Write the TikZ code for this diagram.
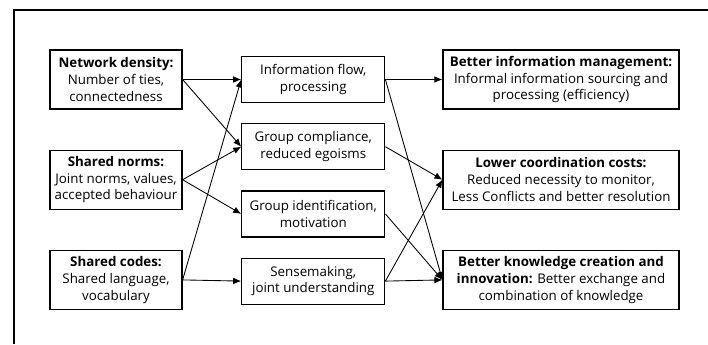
\documentclass[tikz,border=0pt]{standalone}
\usepackage{fontspec}
\setmainfont{Open Sans}
\usetikzlibrary{positioning,arrows.meta}
\tikzset{
  capbox/.style={rectangle,draw=black,line width=0.9pt,align=center,inner sep=2pt,
    minimum width=99pt,minimum height=44.25pt},
  mechbox/.style={rectangle,draw=black,line width=0.9pt,align=center,inner sep=2pt,
    minimum width=107.25pt,minimum height=34.5pt},
  outbox/.style={rectangle,draw=black,line width=0.9pt,align=center,inner sep=2pt,
    minimum width=177pt,minimum height=44.25pt},
  link/.style={-{Latex[length=6pt,width=5pt]},line width=0.65pt},
}

\begin{document}
\begin{tikzpicture}[x=0.75pt,y=-0.75pt,font=\fontsize{10}{12.6}\selectfont,node distance=0pt]
  \useasboundingbox (0,0) rectangle (708,344);
  % frame
  \draw[line width=2pt] (14,344) -- (14,10) -- (708,10);
  % social capital dimensions
  \node[capbox] (dens) at (116,79.5) {\textbf{Network density:}\\Number of ties,\\connectedness};
  \node[capbox,below=30pt of dens] (norms) {\textbf{Shared norms:}\\Joint norms, values,\\accepted behaviour};
  \node[capbox,below=30pt of norms] (codes) {\textbf{Shared codes:}\\Shared language,\\vocabulary};
  % mechanisms
  \node[mechbox] (info) at (313.3,79.5) {Information flow,\\processing};
  \node[mechbox,below=15pt of info] (compl) {Group compliance,\\reduced egoisms};
  \node[mechbox,below=15pt of compl] (ident) {Group identification,\\motivation};
  \node[mechbox,below=15pt of ident] (sense) {Sensemaking,\\joint understanding};
  % outcomes
  \node[outbox] (infman) at (561,79.5) {\textbf{Better information management:}\\Informal information sourcing and\\processing (efficiency)};
  \node[outbox,below=30pt of infman] (coord) {\textbf{Lower coordination costs:}\\Reduced necessity to monitor,\\Less Conflicts and better resolution};
  \node[outbox,below=30pt of coord] (know) {\textbf{Better knowledge creation and}\\\textbf{innovation:} Better exchange and\\combination of knowledge};
  % arrows
  \draw[link] (dens.east) -- (info.west);
  \draw[link] (dens.east) -- (compl.west);
  \draw[link] (norms.east) -- (compl.west);
  \draw[link] (norms.east) -- (ident.west);
  \draw[link] (codes.east) -- (info.west);
  \draw[link] (codes.east) -- (sense.west);
  \draw[link] (info.east) -- (infman.west);
  \draw[link] (info.east) -- (know.west);
  \draw[link] (compl.east) -- (coord.west);
  \draw[link] (ident.east) -- (know.west);
  \draw[link] (sense.east) -- (coord.west);
  \draw[link] (sense.east) -- (know.west);
\end{tikzpicture}
\end{document}
